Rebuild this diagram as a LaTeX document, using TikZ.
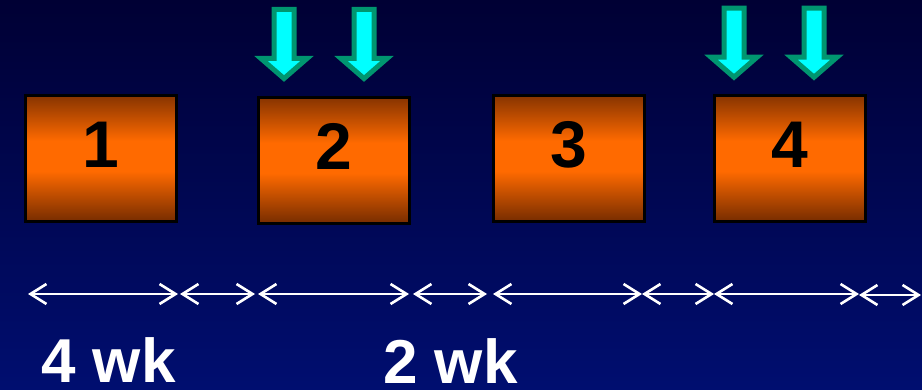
\documentclass[tikz,border=0pt]{standalone}
\usepackage{fontspec}
\setmainfont{Liberation Sans}
\usetikzlibrary{arrows.meta}

\definecolor{bgtop}{RGB}{0,0,52}
\definecolor{bgbottom}{RGB}{0,14,112}
\definecolor{boxtop}{RGB}{135,52,0}
\definecolor{boxmid}{RGB}{255,106,0}
\definecolor{boxbottom}{RGB}{118,44,0}
\definecolor{cueedge}{RGB}{0,150,112}
\definecolor{cuefill}{RGB}{0,255,255}

% orange band across the middle of each stage box, darker at top and bottom
\pgfdeclareverticalshading{stageshade}{100bp}{color(0bp)=(boxbottom); color(25bp)=(boxbottom); color(45bp)=(boxmid); color(57bp)=(boxmid); color(75bp)=(boxtop); color(100bp)=(boxtop)}

\tikzset{
  chev/.tip={Straight Barb[length=16pt,width=20pt,line width=2.6pt]},
  span/.style={draw=white, line width=2pt, chev-chev},
  stagebox/.style={draw=black, line width=3pt, shade, shading=stageshade,
    minimum width=151pt, minimum height=126pt, inner sep=0pt,
    font=\fontsize{66}{66}\selectfont\bfseries, text=black,
    text height=19pt, text depth=0pt},
  weeklabel/.style={text=white, inner sep=0pt,
    font=\fontsize{62}{62}\selectfont\bfseries},
  cueline/.style={draw=cueedge, fill=cuefill, line width=5pt, miter limit=10},
  dnarrow/.pic={
    \path[cueline] (-10,0) -- (10,0) -- (10,49) -- (23,49) -- (0,69)
      -- (-23,49) -- (-10,49) -- cycle;
  }
}

\begin{document}
\begin{tikzpicture}[x=1pt, y=-1pt]
  \useasboundingbox (0,0) rectangle (922,390);
  \shade[top color=bgtop, bottom color=bgbottom] (0,0) rectangle (922,390);

  % stage boxes
  \node[stagebox] (s1) at (101,158.5) {1};
  \node[stagebox] (s2) at (333.5,160.5) {2};
  \node[stagebox] (s3) at (568.5,158.5) {3};
  \node[stagebox] (s4) at (789.5,158.5) {4};

  % cue arrows above boxes 2 and 4
  \pic at (284,9.5) {dnarrow};
  \pic at (364,9.5) {dnarrow};
  \pic at (734,8.2) {dnarrow};
  \pic at (814,8.2) {dnarrow};

  % time line
  \coordinate (a0) at (28,294);
  \coordinate (a1) at (178,294);
  \coordinate (b0) at (180,294);
  \coordinate (b1) at (255,294);
  \coordinate (c0) at (258,294);
  \coordinate (c1) at (409,294);
  \coordinate (d0) at (413,294);
  \coordinate (d1) at (487,294);
  \coordinate (e0) at (493,294);
  \coordinate (e1) at (642,294);
  \coordinate (f1) at (714,294);
  \coordinate (g1) at (859,294);
  \coordinate (h0) at (859,295);
  \coordinate (h1) at (921,295);
  \draw[span] (a0) -- (a1);
  \draw[span] (b0) -- (b1);
  \draw[span] (c0) -- (c1);
  \draw[span] (d0) -- (d1);
  \draw[span] (e0) -- (e1);
  \draw[span] (e1) -- (f1);
  \draw[span] (f1) -- (g1);
  \draw[span] (h0) -- (h1);

  % interval labels
  \node[weeklabel, anchor=base west] (w4) at (41,383) {4 wk};
  \node[weeklabel, anchor=base west] (w2) at (383,384) {2 wk};
\end{tikzpicture}
\end{document}
